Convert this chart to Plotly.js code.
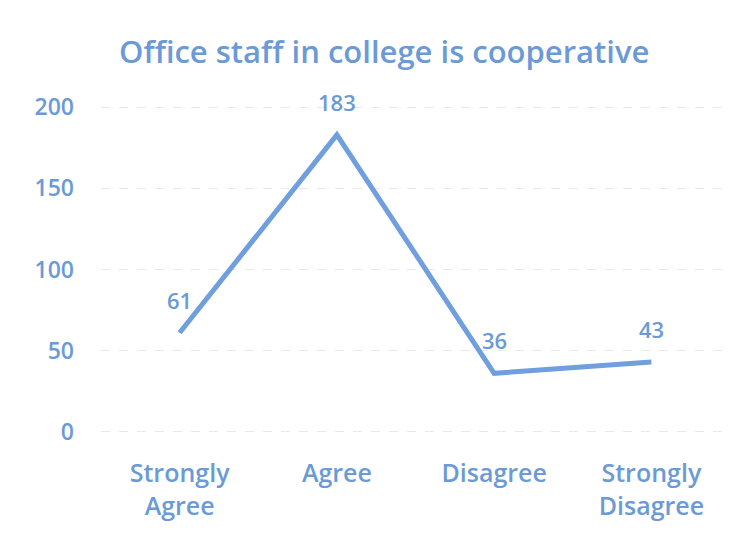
<!DOCTYPE html>
<html>
<head>
<meta charset="utf-8">
<script src="https://cdn.plot.ly/plotly-3.0.1.min.js"></script>
<style>html,body{margin:0;padding:0;background:#fff;}#chart{width:746px;height:547px;}</style>
</head>
<body>
<div id="chart"></div>
<script>
var categories = ["Strongly<br>Agree", "Agree", "Disagree", "Strongly<br>Disagree"];
var responses = [61, 183, 36, 43];
var yTicks = [0, 50, 100, 150, 200];

var blue = "#6f9fdc";
var textBlue = "#6b9ad6";
var fontFam = "'Open Sans', 'Noto Sans', sans-serif";

var trace = {
  x: categories,
  y: responses,
  type: "scatter",
  mode: "lines",
  line: {color: blue, width: 5},
  hoverinfo: "skip"
};

var annotations = categories.map(function(c, i) {
  return {
    x: c, y: responses[i], xref: "x", yref: "y",
    text: String(responses[i]), showarrow: false,
    yshift: 33,
    font: {family: fontFam, size: 22, color: textBlue, weight: 600}
  };
});

var layout = {
  width: 746, height: 547,
  paper_bgcolor: "#ffffff", plot_bgcolor: "#ffffff",
  margin: {l: 101, r: 16, t: 104, b: 112},
  showlegend: false,
  title: {
    text: "Office staff in college is cooperative",
    x: 0.515, xanchor: "center", y: 0.905, yanchor: "middle",
    font: {family: fontFam, size: 31, color: textBlue, weight: 600}
  },
  xaxis: {
    type: "category", range: [-0.5, 3.5],
    showgrid: false, zeroline: false, showline: false, ticks: "",
    tickfont: {family: fontFam, size: 25, color: textBlue, weight: 600},
    ticklabelstandoff: 21
  },
  yaxis: {
    range: [-2, 202], tickvals: yTicks, ticktext: yTicks.map(String),
    showgrid: true, gridcolor: "#e8e8e8", griddash: "dash", gridwidth: 1,
    zeroline: false, showline: false, ticks: "",
    tickfont: {family: fontFam, size: 23, color: textBlue, weight: 600},
    ticklabelstandoff: 26
  },
  annotations: annotations
};

Plotly.newPlot("chart", [trace], layout, {displayModeBar: false, staticPlot: true});
</script>
</body>
</html>
